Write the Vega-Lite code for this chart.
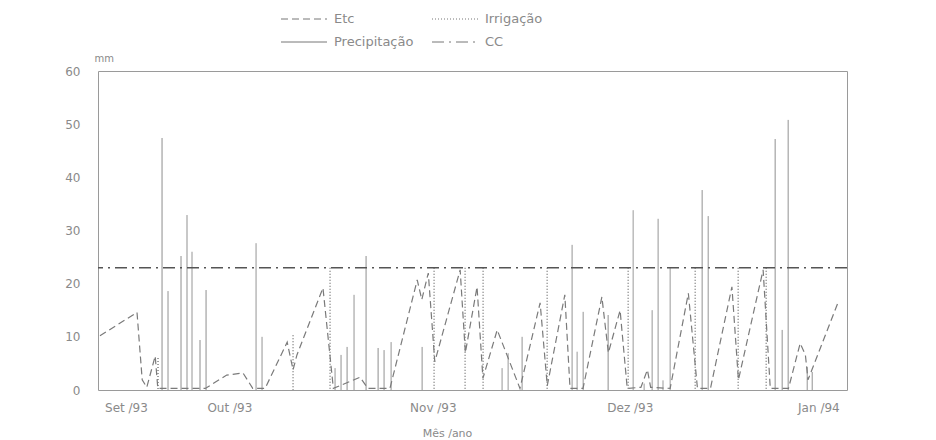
{
  "$schema": "https://vega.github.io/schema/vega-lite/v6.json",
  "autosize": {"type": "none"},
  "width": 749,
  "height": 319,
  "padding": {"left": 98, "top": 71, "right": 89, "bottom": 50},
  "background": "white",
  "config": {
    "view": {"stroke": "#9a9a9a", "strokeWidth": 1},
    "font": "DejaVu Sans",
    "axis": {"labelColor": "#8a8a8a", "titleColor": "#8a8a8a", "labelFont": "DejaVu Sans", "titleFont": "DejaVu Sans", "titleFontWeight": "normal", "grid": false, "ticks": false, "domain": false},
    "legend": {"labelColor": "#8a8a8a", "labelFont": "DejaVu Sans"}
  },
  "data": {
    "values": [
      {"serie": "Precipitação", "dia": 9.85, "valor": 47.4},
      {"serie": "Precipitação", "dia": 10.77, "valor": 18.6},
      {"serie": "Precipitação", "dia": 12.77, "valor": 25.2},
      {"serie": "Precipitação", "dia": 13.69, "valor": 32.9},
      {"serie": "Precipitação", "dia": 14.46, "valor": 26.0},
      {"serie": "Precipitação", "dia": 15.69, "valor": 9.4},
      {"serie": "Precipitação", "dia": 16.62, "valor": 18.8},
      {"serie": "Precipitação", "dia": 24.31, "valor": 27.6},
      {"serie": "Precipitação", "dia": 25.23, "valor": 10.0},
      {"serie": "Precipitação", "dia": 36.46, "valor": 4.1},
      {"serie": "Precipitação", "dia": 37.38, "valor": 6.6},
      {"serie": "Precipitação", "dia": 38.31, "valor": 8.1},
      {"serie": "Precipitação", "dia": 39.38, "valor": 17.9},
      {"serie": "Precipitação", "dia": 41.23, "valor": 25.2},
      {"serie": "Precipitação", "dia": 43.08, "valor": 7.9},
      {"serie": "Precipitação", "dia": 44.0, "valor": 7.5},
      {"serie": "Precipitação", "dia": 45.08, "valor": 9.0},
      {"serie": "Precipitação", "dia": 49.85, "valor": 8.1},
      {"serie": "Precipitação", "dia": 62.15, "valor": 4.1},
      {"serie": "Precipitação", "dia": 63.08, "valor": 6.9},
      {"serie": "Precipitação", "dia": 65.23, "valor": 10.0},
      {"serie": "Precipitação", "dia": 72.92, "valor": 27.3},
      {"serie": "Precipitação", "dia": 73.69, "valor": 7.2},
      {"serie": "Precipitação", "dia": 74.62, "valor": 14.7},
      {"serie": "Precipitação", "dia": 78.46, "valor": 14.1},
      {"serie": "Precipitação", "dia": 82.31, "valor": 33.8},
      {"serie": "Precipitação", "dia": 84.0, "valor": 1.2},
      {"serie": "Precipitação", "dia": 85.23, "valor": 15.0},
      {"serie": "Precipitação", "dia": 86.15, "valor": 32.2},
      {"serie": "Precipitação", "dia": 86.9, "valor": 1.8},
      {"serie": "Precipitação", "dia": 88.0, "valor": 23.0},
      {"serie": "Precipitação", "dia": 92.92, "valor": 37.6},
      {"serie": "Precipitação", "dia": 93.85, "valor": 32.7},
      {"serie": "Precipitação", "dia": 104.15, "valor": 47.2},
      {"serie": "Precipitação", "dia": 105.23, "valor": 11.3},
      {"serie": "Precipitação", "dia": 106.15, "valor": 50.8},
      {"serie": "Precipitação", "dia": 109.08, "valor": 4.3},
      {"serie": "Precipitação", "dia": 109.85, "valor": 3.4},
      {"serie": "Irrigação", "dia": 9.23, "valor": 6.0},
      {"serie": "Irrigação", "dia": 30.0, "valor": 10.3},
      {"serie": "Irrigação", "dia": 35.69, "valor": 23.0},
      {"serie": "Irrigação", "dia": 51.69, "valor": 23.0},
      {"serie": "Irrigação", "dia": 56.46, "valor": 23.0},
      {"serie": "Irrigação", "dia": 59.23, "valor": 23.0},
      {"serie": "Irrigação", "dia": 69.08, "valor": 23.0},
      {"serie": "Irrigação", "dia": 81.54, "valor": 23.0},
      {"serie": "Irrigação", "dia": 91.85, "valor": 23.0},
      {"serie": "Irrigação", "dia": 98.46, "valor": 23.0},
      {"serie": "Irrigação", "dia": 102.77, "valor": 23.0},
      {"serie": "Etc", "dia": 0.3, "valor": 10.2},
      {"serie": "Etc", "dia": 6.0, "valor": 14.6},
      {"serie": "Etc", "dia": 6.8, "valor": 1.9},
      {"serie": "Etc", "dia": 7.5, "valor": 0.5},
      {"serie": "Etc", "dia": 8.8, "valor": 6.4},
      {"serie": "Etc", "dia": 9.2, "valor": 0.3},
      {"serie": "Etc", "dia": 16.5, "valor": 0.3},
      {"serie": "Etc", "dia": 19.8, "valor": 2.8},
      {"serie": "Etc", "dia": 22.3, "valor": 3.2},
      {"serie": "Etc", "dia": 23.8, "valor": 0.3},
      {"serie": "Etc", "dia": 25.7, "valor": 0.3},
      {"serie": "Etc", "dia": 29.1, "valor": 9.0},
      {"serie": "Etc", "dia": 30.0, "valor": 3.8},
      {"serie": "Etc", "dia": 30.6, "valor": 6.6},
      {"serie": "Etc", "dia": 34.6, "valor": 19.2},
      {"serie": "Etc", "dia": 36.2, "valor": 0.3},
      {"serie": "Etc", "dia": 40.3, "valor": 2.4},
      {"serie": "Etc", "dia": 41.5, "valor": 0.3},
      {"serie": "Etc", "dia": 44.9, "valor": 0.3},
      {"serie": "Etc", "dia": 49.1, "valor": 20.7},
      {"serie": "Etc", "dia": 49.8, "valor": 17.0},
      {"serie": "Etc", "dia": 50.8, "valor": 22.0},
      {"serie": "Etc", "dia": 51.8, "valor": 5.3},
      {"serie": "Etc", "dia": 55.7, "valor": 22.6},
      {"serie": "Etc", "dia": 56.5, "valor": 7.0},
      {"serie": "Etc", "dia": 58.3, "valor": 19.4},
      {"serie": "Etc", "dia": 59.2, "valor": 2.2},
      {"serie": "Etc", "dia": 61.4, "valor": 11.3},
      {"serie": "Etc", "dia": 64.9, "valor": 0.3},
      {"serie": "Etc", "dia": 68.0, "valor": 16.4},
      {"serie": "Etc", "dia": 69.1, "valor": 0.8},
      {"serie": "Etc", "dia": 71.8, "valor": 17.9},
      {"serie": "Etc", "dia": 72.6, "valor": 0.3},
      {"serie": "Etc", "dia": 74.6, "valor": 0.3},
      {"serie": "Etc", "dia": 77.5, "valor": 17.5},
      {"serie": "Etc", "dia": 78.5, "valor": 7.0},
      {"serie": "Etc", "dia": 80.3, "valor": 15.0},
      {"serie": "Etc", "dia": 81.4, "valor": 0.3},
      {"serie": "Etc", "dia": 83.5, "valor": 0.5},
      {"serie": "Etc", "dia": 84.5, "valor": 3.8},
      {"serie": "Etc", "dia": 85.0, "valor": 0.5},
      {"serie": "Etc", "dia": 88.0, "valor": 0.3},
      {"serie": "Etc", "dia": 90.8, "valor": 18.2},
      {"serie": "Etc", "dia": 92.2, "valor": 0.3},
      {"serie": "Etc", "dia": 94.2, "valor": 0.3},
      {"serie": "Etc", "dia": 97.5, "valor": 19.4},
      {"serie": "Etc", "dia": 98.5, "valor": 1.9},
      {"serie": "Etc", "dia": 102.3, "valor": 22.6},
      {"serie": "Etc", "dia": 103.4, "valor": 0.3},
      {"serie": "Etc", "dia": 106.2, "valor": 0.3},
      {"serie": "Etc", "dia": 108.0, "valor": 8.8},
      {"serie": "Etc", "dia": 108.8, "valor": 6.6},
      {"serie": "Etc", "dia": 109.2, "valor": 1.9},
      {"serie": "Etc", "dia": 113.8, "valor": 16.4},
      {"serie": "CC", "dia": 0, "valor": 23.0}
    ]
  },
  "encoding": {
    "x": {
      "field": "dia", "type": "quantitative",
      "scale": {"domain": [0, 115.2], "nice": false, "zero": false},
      "axis": {
        "values": [4.3, 20.2, 51.5, 81.8, 110.8],
        "labelExpr": "datum.value < 10 ? 'Set /93' : datum.value < 30 ? 'Out /93' : datum.value < 60 ? 'Nov /93' : datum.value < 90 ? 'Dez /93' : 'Jan /94'",
        "labelFontSize": 12, "labelPadding": 12,
        "title": "Mês /ano", "titleFontSize": 11, "titlePadding": 14, "titleX": 349
      }
    },
    "y": {
      "field": "valor", "type": "quantitative",
      "scale": {"domain": [0, 60], "nice": false},
      "axis": {
        "values": [0, 10, 20, 30, 40, 50, 60],
        "labelFontSize": 12, "labelPadding": 18,
        "title": "mm", "titleAngle": 0, "titleFontSize": 10, "titleX": -4, "titleY": -8, "titleAlign": "left", "titleBaseline": "bottom"
      }
    },
    "strokeDash": {
      "field": "serie", "type": "nominal",
      "scale": {"domain": ["Etc", "Precipitação", "Irrigação", "CC"], "range": [[7, 4], [1, 0], [1, 2], [12, 5, 2, 5]]},
      "legend": {
        "title": null, "orient": "none", "legendX": 194, "legendY": -64,
        "columns": 2, "columnPadding": 16, "rowPadding": 4,
        "symbolType": "M-2,0H2", "symbolSize": 529, "symbolStrokeColor": "#777", "symbolStrokeWidth": 1,
        "labelFontSize": 13, "labelOffset": 18
      }
    }
  },
  "layer": [
    {
      "transform": [{"filter": "datum.serie === 'Precipitação'"}],
      "mark": {"type": "rule", "color": "#8c8c8c", "strokeWidth": 1},
      "encoding": {"y2": {"datum": 0}}
    },
    {
      "transform": [{"filter": "datum.serie === 'Irrigação'"}],
      "mark": {"type": "rule", "color": "#707070", "strokeWidth": 1.3},
      "encoding": {"y2": {"datum": 0}}
    },
    {
      "transform": [{"filter": "datum.serie === 'Etc'"}],
      "mark": {"type": "line", "color": "#7a7a7a", "strokeWidth": 1.2},
      "encoding": {}
    },
    {
      "transform": [{"filter": "datum.serie === 'CC'"}],
      "mark": {"type": "rule", "color": "#555", "strokeWidth": 1.4},
      "encoding": {"x": null}
    }
  ]
}
